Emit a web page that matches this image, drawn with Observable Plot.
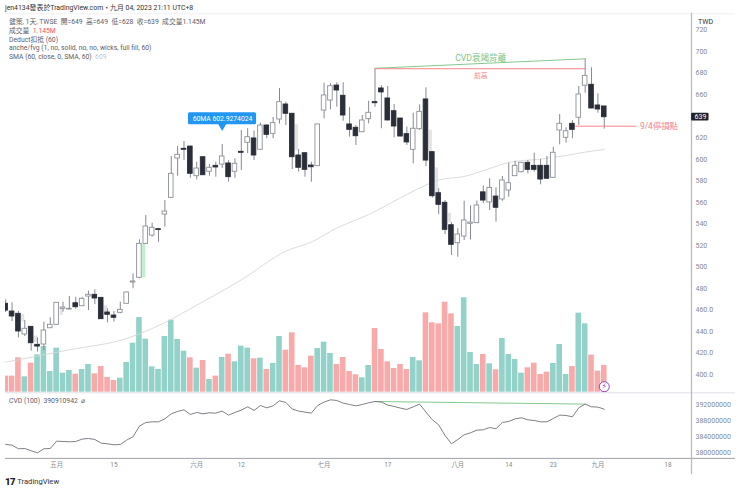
<!DOCTYPE html>
<html><head><meta charset="utf-8">
<script src="https://cdn.jsdelivr.net/npm/d3@7"></script>
<script src="https://cdn.jsdelivr.net/npm/@observablehq/plot@0.6"></script>
<style>
html,body{margin:0;padding:0;background:#fff}
#wrap{position:relative;width:740px;height:491px;overflow:hidden;font-family:Roboto,"Noto Sans CJK TC",sans-serif}
#wrap svg{position:absolute;left:0;top:0;overflow:visible}
.t{position:absolute;white-space:pre;line-height:10px;font-size:6.8px;color:#5d606b}
</style></head><body>
<div id="wrap"></div>
<script>
const open=[465.9,458.7,456.6,437.4,444.5,427.8,428.1,443.2,446.4,461.2,460.6,466.4,463.6,472.6,474.2,471.4,457.8,455,457.5,465.9,485.6,490,521.5,529.2,535.1,548.7,564.2,600.7,609.7,611.8,584.3,601.9,588.4,593.9,595.1,596.1,588.4,606.9,615.3,619.3,608.8,631.3,623.6,636.9,650.8,642.2,603.5,605.6,594.2,593.6,645.2,654.5,668.4,658.9,632.3,629.2,625.1,637.2,653,665.7,656.4,644.6,637.8,623.3,608.8,627.9,655.5,606.6,568.5,559.6,538.8,522.1,528.3,540.1,540.7,569.3,559.9,565.4,562.7,571,584.3,588,596.7,593.9,593.9,593.9,582.8,626.7,619.9,632.9,638.5,668.2,669.1,649.9,649];
const high=[469.6,466.8,458.7,450.4,444.8,434.3,448.8,452.9,467,467.4,472.6,472,472,477.6,478.9,471.6,461.2,458.7,467.4,476.6,493.7,525.3,547.8,540.7,535.3,561.7,602.6,611.8,616.5,612,597.3,602,595.1,597.3,613.7,598.8,600.4,626.7,628.3,626.2,633.6,632,638.8,665.7,653,642.5,609.1,606,597.3,632.5,670.6,670,671,671,647.8,631.3,640.6,653.9,683.9,668.4,667.5,650.8,638,629.8,642.7,650.5,666.3,607,572.6,561.7,541.3,535.5,561.1,556.8,561.3,575.2,581.9,573.5,584,596.3,598.2,597,598.8,605.6,599.8,602.6,611.2,641.5,629.2,636,667.5,693.2,684.9,660.7,649];
const low=[457.8,449.4,434.3,435.5,421.9,421,422.5,443,446.2,458.1,460.3,460.9,463.4,459.6,465.2,451.4,448.2,448.8,456.6,465.7,479.8,489.1,520.9,527.7,523,537,564,584.3,598.8,582.4,580.9,585,584.3,583.4,591.4,578.7,582.4,589.6,605.3,598.8,608.6,619,619,632.7,631.3,590.5,588.2,583.4,578.7,593.4,637.5,645.9,648.3,635.3,620.5,612.8,624.8,632.9,648.3,628.3,635.5,619.9,621,612.8,595.8,626.7,593.3,563.9,548.5,530.2,510.7,509.1,524.6,525.1,540.4,558.9,552.4,541.6,561.1,564.8,584,587.4,586.5,588,576.3,581.7,582.6,613.4,614.9,619,631.3,661.3,646.8,642.7,628];
const close=[459.6,454.1,440.2,442.7,429.3,426.2,441.1,446.4,466.8,462.4,461.2,462.7,470.5,474.2,470.8,451.6,455.7,452.9,460.3,476.4,486.6,521.5,537.6,536.4,534.4,551.5,586.5,604.1,608.8,586.5,591.4,585.2,592.1,592.4,602.6,583.4,595.8,606,620.5,603.5,631.3,622.7,633.5,653,642.2,601.9,592.1,590.2,592.6,632.3,659.2,667.8,663.8,640.6,627.3,621.4,636,643.1,652,662,636,630.4,621.1,615.6,628.3,644,598.8,565.7,557.7,534.5,520.6,530.2,543.2,541.3,557.1,561.7,573.3,555,580.3,577.8,593.9,596.7,590.2,590.2,581.2,581.9,606,632.9,626,627.3,660.1,677.4,647.1,646.2,639];
const volume=[.69,.69,1.475,.66,1.246,1.604,1.961,.888,1.89,.817,.931,.774,.974,1.189,.788,1.103,.631,.502,.602,1.275,2.104,3.206,2.276,1.089,.974,2.39,3.09,2.262,1.761,1.475,1.031,1.36,.545,.69,1.489,1.632,1.303,1.976,1.89,1.432,1.461,.974,1.232,2.39,1.804,2.548,1.146,1.046,1.546,1.876,2.147,1.661,1.189,1.489,.888,.745,.617,1.146,2.734,1.833,1.303,1.017,1.189,.974,1.489,1.346,3.406,2.977,2.934,3.864,3.363,2.82,4.05,1.704,1.189,1.618,1.217,.96,2.305,1.618,1.403,.817,1.046,1.246,.76,.86,1.232,2.047,.76,1.103,3.392,2.934,1.589,.903,1.145];
const downVolumeBars=[0,1,2,4,11,14,15,16,17,29,31,33,35,39,41,44,45,46,47,48,52,53,54,55,58,59,60,61,62,63,66,67,68,69,70,75,77,82,83,84,85,89,92,93,94];
const cvd=[382.08,381.92,381,381.08,380.5,380,381,381.08,382.92,382.83,382.75,382.83,383.42,383.58,383.33,382.42,382.25,382,382.08,383.17,384,386.67,387.58,387.75,387.75,388.5,389.75,390.33,390.75,389.58,390.08,389.75,390,389.92,390.42,389.42,390.08,390.67,391.5,390.58,391.83,391.25,391.75,393,392.58,390.92,390.42,390.17,389.92,391.83,392.67,393.25,393.08,392.42,392.08,391.75,392.08,392.5,392.83,392.67,391.92,391.58,391.17,390.83,391.5,392.17,390.17,388.25,387,384.33,382.25,383.33,384.5,385,385.67,385.75,386.33,386,387.58,387.83,388.5,388.75,388.25,388.08,387.75,387.75,388.58,389.42,389.33,389,391.25,392.17,391.5,391.42,390.91];
const smaBars=[0,10,19,25,30,37,44,48,52,57,62,66,68,72,76,79,84,88,91,94];
const smaValues=[411.7,423.2,433.7,448.5,464.6,488.1,514.7,523.2,536.2,548.7,564.2,576.1,580.8,584,591.4,597,600.2,603.5,606.6,609];
const xTickBars=[8,17,30,37,50,60,71,79,86,93,104];
const xTickLabels=["五月","15","六月","12","七月","17","八月","14","23","九月","18"];
const priceTicks=[720,700,680,660,620,600,580,560,540,520,500,480,460,440,420,400];
const priceLabels=["720","700","680","660","620","600","580","560","540","520","500","480","460.0","440.0","420.0","400.0"];
const cvdTicks=[392,388,384,380];
const cvdLabels=["392000000","388000000","384000000","380000000"];
const gapBoxes=[
 {b0:21.5,b1:22,lo:490,hi:521,c:"#bff0cd"},
 {b0:45.5,b1:46,lo:608,hi:632,c:"#e3e3e3"},
 {b0:66.5,b1:67,lo:604,hi:627,c:"#e3e3e3"},
 {b0:67.5,b1:68,lo:568,hi:592,c:"#e3e3e3"},
 {b0:69.5,b1:70,lo:541,hi:550,c:"#e3e3e3"},
 {b0:2.5,b1:3,lo:449,hi:456,c:"#e3e3e3"},
 {b0:8.6,b1:9,lo:455,hi:461,c:"#e3e3e3"},
 {b0:15.5,b1:16,lo:456,hi:464,c:"#e3e3e3"},
 {b0:4.5,b1:5,lo:430,hi:436,c:"#e3e3e3"}
];
const up="#92d2c8",down="#f8a9a9",redLine="#f7838a",green="#86c98d",wick="#868993",ink="#2a2e39",axisC="#858a93";
const candles=open.map((o,i)=>({i,o,h:high[i],l:low[i],c:close[i],down:close[i]<o}));
const bars=volume.map((v,i)=>({i,v,down:downVolumeBars.includes(i)}));
const smaLine=smaBars.map((i,k)=>({i,v:smaValues[k]}));
const cvdLine=cvd.map((v,i)=>({i,v}));
const xs={domain:[-0.03,107.7],range:[5,691],axis:null};
const base={width:740,height:491,marginLeft:5,marginRight:49,marginTop:13,marginBottom:33,style:{background:"transparent",fontFamily:'Roboto,"Noto Sans CJK TC",sans-serif',fontSize:"7px"}};
const w=document.getElementById("wrap");

// volume pane
w.append(Plot.plot({...base,x:xs,y:{domain:[0,16.81],range:[391.7,0],axis:null},marks:[
 Plot.rect(bars,{x1:d=>d.i-.44,x2:d=>d.i+.44,y1:0,y2:"v",fill:d=>d.down?down:up,clip:true})
]}));

// CVD pane and time axis
const hLine=(v,c,x2=114.6)=>Plot.ruleY([v],{x1:-0.03,x2,stroke:c,strokeWidth:1});
w.append(Plot.plot({...base,x:xs,y:{domain:[380,392],range:[452.3,404.3],axis:null},marks:[
 hLine(395.0,"#dfe2e8"),
 hLine(378.6,"#9ea1a8"),
 Plot.axisX({anchor:"bottom",ticks:xTickBars,tickFormat:d=>xTickLabels[xTickBars.indexOf(d)],tickSize:0,tickPadding:4,fill:axisC,fontSize:6.4,label:null}),
 Plot.axisY({anchor:"right",ticks:cvdTicks,tickFormat:d=>cvdLabels[cvdTicks.indexOf(d)],tickSize:0,tickPadding:4,fill:axisC,fontSize:7,label:null}),
 Plot.line([{i:58,v:392.83},{i:91,v:392.17}],{x:"i",y:"v",stroke:green,strokeWidth:1}),
 Plot.line(cvdLine,{x:"i",y:"v",stroke:"#6f727b",strokeWidth:.9})
]}));

// price pane
w.append(Plot.plot({...base,marginBottom:18,x:xs,y:{domain:[400,720],range:[374.3,29.44],axis:null},marks:[
 Plot.ruleY([735],{x1:-0.03,x2:114.6,stroke:"#f0f1f3"}),
 Plot.frame({anchor:"right",stroke:"#b9bbbf",strokeWidth:1.3}),
 Plot.axisY({anchor:"right",ticks:priceTicks,tickFormat:d=>priceLabels[priceTicks.indexOf(d)],tickSize:0,tickPadding:4,fill:axisC,fontSize:7,label:null}),
 Plot.rect(gapBoxes,{x1:"b0",x2:"b1",y1:"lo",y2:"hi",fill:"c"}),
 Plot.line(smaLine,{x:"i",y:"v",stroke:"#d6d7da",strokeWidth:.9,curve:"monotone-x"}),
 Plot.ruleX(candles,{x:"i",y1:"l",y2:"h",stroke:wick,strokeWidth:1,clip:true}),
 Plot.rect(candles,{x1:d=>d.i-.36,x2:d=>d.i+.36,y1:d=>Math.min(d.o,d.c),y2:d=>Math.max(d.o,d.c),fill:d=>d.down?ink:"#fff",stroke:d=>d.down?ink:"#8d9097",strokeWidth:.9,clip:true}),
 Plot.line([{i:58,v:684.4},{i:91,v:693.2}],{x:"i",y:"v",stroke:green,strokeWidth:1}),
 Plot.line([{i:58,v:684},{i:91,v:684}],{x:"i",y:"v",stroke:redLine,strokeWidth:1}),
 Plot.text(["CVD衰竭背離"],{x:74.6,y:694,fill:"#7fc487",fontSize:8.6}),
 Plot.text(["前高"],{x:74.6,y:677.5,fill:redLine,fontSize:6.8}),
 Plot.line([{i:89.5,v:630.7},{i:99,v:630.7}],{x:"i",y:"v",stroke:redLine,strokeWidth:1}),
 Plot.text(["9/4停損點"],{x:99.6,y:630.7,textAnchor:"start",fill:redLine,fontSize:8.4}),
 Plot.dot([{i:34,v:630.9}],{x:"i",y:"v",symbol:"triangle",r:3.2,rotate:180,fill:"#2196f3"}),
 Plot.rect([{}],{x1:28.7,x2:39.4,y1:632,y2:643.1,fill:"#2196f3",rx:1.5}),
 Plot.text(["60MA 602.9274024"],{x:34.05,y:637.5,fill:"#fff",fontSize:6.8}),
 Plot.rect([{}],{x1:107.72,x2:110.45,y1:635.4,y2:642.8,fill:"#1e2127",rx:1}),
 Plot.text(["639"],{x:109.1,y:639,fill:"#fff",fontSize:7}),
 Plot.dot([{i:94,v:389}],{x:"i",y:"v",r:5,fill:"#fff",stroke:"#9c3fc0",strokeWidth:1}),
 Plot.text(["⚡"],{x:94,y:389,fill:"#9c3fc0",fontSize:8,fontFamily:"DejaVu Sans"})
]}));

// text blocks
const txt=(x,y,html,extra="")=>{const d=document.createElement("div");d.className="t";d.style.cssText=`left:${x}px;top:${y-5}px;${extra}`;d.innerHTML=html;w.append(d)};
txt(5,8,"jen4134發表於TradingView.com・九月 04, 2023 21:11 UTC+8","color:#333;font-size:6.9px");
txt(9,22,"健策, 1天, TWSE  開=649  高=649  低=628  收=639  成交量1.145M");
txt(9,31,'成交量  <span style="color:#f7525f">1.145M</span>');
txt(9,39.7,"Deduct扣抵 (60)");
txt(9,48.3,"anche/fvg (1, no, solid, no, no, wicks, full fill, 60)");
txt(9,57,'SMA (60, close, 0, SMA, 60)  <span style="color:#c4c6cb">609</span>');
txt(9,400.7,"CVD (100)  390910942  ⌀");
txt(698,22,"TWD","color:#333;font-size:7px");
txt(5,482,'<b style="font-weight:900;color:#222;letter-spacing:-.5px;font-size:9.5px">17</b>',"color:#333");
txt(17.3,482,"TradingView","color:#333;font-size:7.6px");
</script></body></html>
